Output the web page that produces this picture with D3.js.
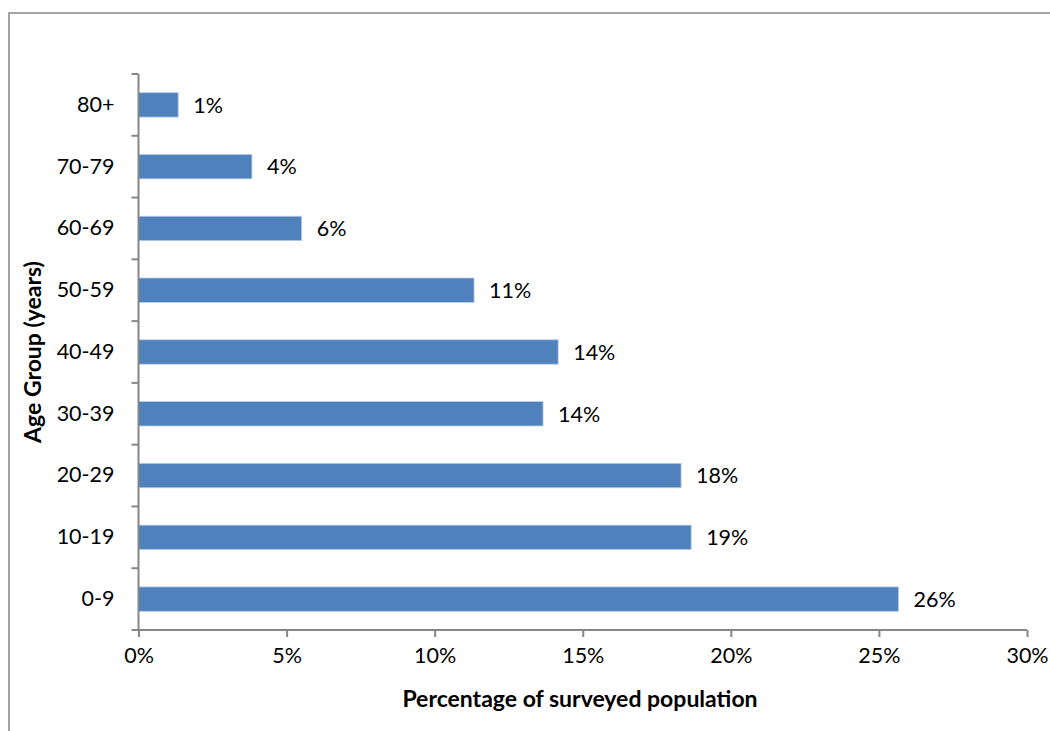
<!DOCTYPE html>
<html>
<head>
<meta charset="utf-8">
<script src="https://cdn.jsdelivr.net/npm/d3@7"></script>
<style>
html,body{margin:0;padding:0;background:#fff;}
svg{display:block;}
text{font-family:Lato,"Open Sans",sans-serif;fill:#000;}
</style>
</head>
<body>
<svg id="chart" width="1050" height="731"></svg>
<script>
const categories = ["0-9","10-19","20-29","30-39","40-49","50-59","60-69","70-79","80+"];
const values = [25.66, 18.66, 18.32, 13.66, 14.17, 11.33, 5.51, 3.83, 1.34];
const valueLabels = ["26%","19%","18%","14%","14%","11%","6%","4%","1%"];
const xTicks = [0,5,10,15,20,25,30];
const xTitle = "Percentage of surveyed population";
const yTitle = "Age Group (years)";

const svg = d3.select("#chart");
const m = {left:138.5, right:1027, top:74, bottom:630};
const FS = 21.5;

svg.append("rect").attr("x",9).attr("y",13).attr("width",1060).attr("height",740)
  .attr("fill","#fff").attr("stroke","#868686").attr("stroke-width",1.5);

const x = d3.scaleLinear().domain([0,30]).range([m.left,m.right]);
const y = d3.scaleBand().domain(categories.slice().reverse()).range([m.top,m.bottom]).paddingInner(0.605).paddingOuter(0.3025);

const data = categories.map((c,i)=>({c, v:values[i], l:valueLabels[i]}));

svg.selectAll("rect.bar").data(data).join("rect").attr("class","bar")
  .attr("x",x(0)).attr("y",d=>y(d.c)).attr("width",d=>x(d.v)-x(0)).attr("height",y.bandwidth())
  .attr("fill","#4F81BD").attr("stroke","#B9CDE5").attr("stroke-width",0.8);

svg.selectAll("text.vl").data(data).join("text").attr("class","vl")
  .attr("x",d=>x(d.v)+15).attr("y",d=>y(d.c)+y.bandwidth()/2).attr("dy","0.36em")
  .attr("font-size",FS).text(d=>d.l);

// x axis
const xAxis = d3.axisBottom(x).tickValues(xTicks).tickFormat(d=>d+"%").tickSize(7).tickPadding(11);
const gx = svg.append("g").attr("transform",`translate(0,${m.bottom})`).call(xAxis);
gx.select(".domain").attr("stroke","#868686").attr("stroke-width",2).attr("d",`M${m.left},0H${m.right}`);
gx.selectAll(".tick line").attr("stroke","#868686").attr("stroke-width",2);
gx.selectAll(".tick text").attr("font-size",FS).attr("font-family","Lato, sans-serif").attr("fill","#000");

// y axis: ticks at band boundaries
const yAxis = d3.axisLeft(y).tickSize(0).tickPadding(24);
const gy = svg.append("g").attr("transform",`translate(${m.left},0)`).call(yAxis);
gy.select(".domain").attr("stroke","#868686").attr("stroke-width",2).attr("d",`M0,${m.top}V${m.bottom}`);
gy.selectAll(".tick text").attr("font-size",FS).attr("font-family","Lato, sans-serif").attr("fill","#000");
const bounds = d3.range(categories.length+1).map(i=>m.top + i*(m.bottom-m.top)/categories.length);
svg.append("g").selectAll("line").data(bounds).join("line")
  .attr("x1",m.left-7).attr("x2",m.left).attr("y1",d=>d).attr("y2",d=>d)
  .attr("stroke","#868686").attr("stroke-width",2);

svg.append("text").attr("x",580).attr("y",707).attr("text-anchor","middle")
  .attr("font-size",23).attr("font-weight","bold").text(xTitle);
svg.append("text").attr("transform",`translate(41,352) rotate(-90)`).attr("text-anchor","middle")
  .attr("font-size",23).attr("font-weight","bold").text(yTitle);
</script>
</body>
</html>
